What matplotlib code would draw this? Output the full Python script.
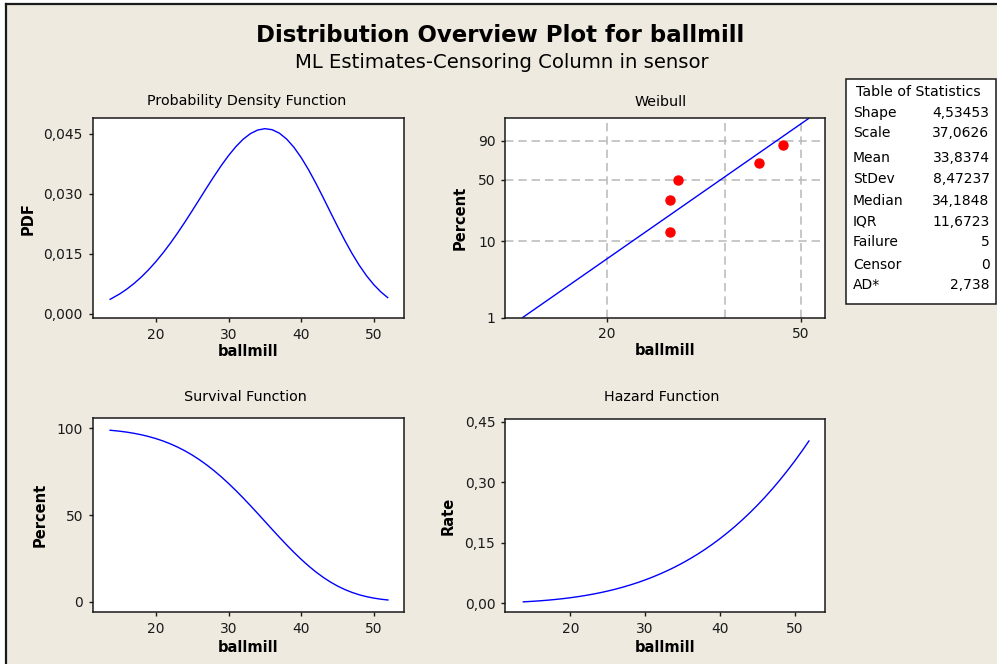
import numpy as np
import matplotlib
matplotlib.use('Agg')
import matplotlib.pyplot as plt
from matplotlib.patches import Rectangle
from matplotlib.lines import Line2D

plt.rcParams['font.family'] = 'DejaVu Sans'

#region Data
curve_x = [13.7, 15, 16, 17, 18, 19, 20, 21, 22, 23, 24, 25, 26, 27, 28, 29, 30, 31, 32, 33, 34, 35,
           36, 37, 38, 39, 40, 41, 42, 43, 44, 45, 46, 47, 48, 49, 50, 51, 51.9]
pdf_y = [0.003591, 0.004919, 0.006146, 0.007560, 0.009173, 0.010989, 0.013007, 0.015224, 0.017626,
         0.020198, 0.022908, 0.025725, 0.028602, 0.031483, 0.034307, 0.037004, 0.039497, 0.041706,
         0.043555, 0.044962, 0.045865, 0.046208, 0.045954, 0.045085, 0.043605, 0.041555, 0.038988,
         0.035986, 0.032644, 0.029096, 0.025431, 0.021805, 0.018305, 0.015031, 0.012067, 0.009457,
         0.007230, 0.005380, 0.004029]
survival_y = [98.91, 98.36, 97.81, 97.12, 96.29, 95.28, 94.08, 92.68, 91.03, 89.14, 86.99, 84.56,
              81.84, 78.84, 75.55, 71.98, 68.15, 64.09, 59.83, 55.39, 50.85, 46.24, 41.63, 37.07,
              32.63, 28.37, 24.34, 20.59, 17.15, 14.07, 11.33, 8.98, 6.97, 5.31, 3.95, 2.88, 2.05,
              1.42, 1.00]
hazard_y = [0.00363, 0.00500, 0.00628, 0.00778, 0.00953, 0.01153, 0.01383, 0.01643, 0.01936, 0.02266,
            0.02634, 0.03042, 0.03495, 0.03993, 0.04541, 0.05141, 0.05795, 0.06507, 0.07280, 0.08117,
            0.09020, 0.09993, 0.11039, 0.12162, 0.13364, 0.14649, 0.16021, 0.17481, 0.19037, 0.20687,
            0.22438, 0.24292, 0.26255, 0.28329, 0.30518, 0.32824, 0.35250, 0.37810, 0.40221]

# Weibull probability plot
fail_x = [27, 27, 28, 41, 46]
fail_pct = [12.96, 31.48, 50.0, 68.52, 87.04]
fit_x = [13.44, 51.9]
fit_pct = [1, 99]

stat_names = ['Shape', 'Scale', 'Mean', 'StDev', 'Median', 'IQR', 'Failure', 'Censor', 'AD*']
stat_values = ['4,53453', '37,0626', '33,8374', '8,47237', '34,1848', '11,6723', '5', '0', '2,738']
#endregion

W, H = 997, 664
BG = '#EEEAE0'
BLUE = '#0000FF'
fig = plt.figure(figsize=(W / 100, H / 100), dpi=100, facecolor=BG)


def box(l, t, r, b):
    # pixel box -> figure rect
    return [l / W, 1 - b / H, (r - l) / W, (b - t) / H]


def ftext(px, py, s, **kw):
    fig.text(px / W, 1 - py / H, s, **kw)


# outer frame (white strip + dark line at top and left)
fig.add_artist(Rectangle((0, 1 - 2.7 / H), 1, 2.7 / H, transform=fig.transFigure, color='white', lw=0))
fig.add_artist(Rectangle((0, 0), 4.7 / W, 1, transform=fig.transFigure, color='white', lw=0))
fig.add_artist(Line2D([5.7 / W, 1], [1 - 3.7 / H, 1 - 3.7 / H], transform=fig.transFigure, color='#1a1a1a', lw=1.6))
fig.add_artist(Line2D([5.7 / W, 5.7 / W], [0, 1 - 3.7 / H], transform=fig.transFigure, color='#1a1a1a', lw=1.6))

ftext(500.5, 35, 'Distribution Overview Plot for ballmill', ha='center', va='center',
      fontsize=16.5, fontweight='bold')
ftext(501.5, 63, 'ML Estimates-Censoring Column in sensor', ha='center', va='center', fontsize=14.1)

TICK_FS = 10


def style(ax, title, title_xy, ylabel, xlab_y, ylab_x):
    ax.set_facecolor('white')
    for s in ax.spines.values():
        s.set_linewidth(1.1)
        s.set_color('#1a1a1a')
    ax.tick_params(direction='out', length=3, width=1, labelsize=TICK_FS, colors='#1a1a1a', pad=4)
    ftext(title_xy[0], title_xy[1], title, ha='center', va='center', fontsize=10.3)
    ax.set_xlabel('ballmill', fontsize=10.5, fontweight='bold')
    ax.set_ylabel(ylabel, fontsize=10.5, fontweight='bold')
    ax.xaxis.set_label_coords(0.5, xlab_y)
    ax.yaxis.set_label_coords(ylab_x, 0.5)


x_ticks = [20, 30, 40, 50]

# PDF
ax1 = fig.add_axes(box(92.7, 118.3, 404, 318.3))
ax1.plot(curve_x, pdf_y, color=BLUE, lw=1.0)
ax1.set_xlim(11.3, 54.15)
ax1.set_ylim(-0.00115, 0.0488)
ax1.set_xticks(x_ticks)
ax1.set_yticks([0, 0.015, 0.03, 0.045])
ax1.set_yticklabels(['0,000', '0,015', '0,030', '0,045'])
style(ax1, 'Probability Density Function', (246.2, 101), 'PDF', -0.126, -0.182)

# Weibull probability plot
def wfwd(p):
    p = np.clip(np.asarray(p, dtype=float), 1e-6, 100 - 1e-6)
    return np.log(-np.log(1 - p / 100))


def winv(w):
    return 100 * (1 - np.exp(-np.exp(w)))


ax2 = fig.add_axes(box(505.3, 118.3, 825, 317.7))
ax2.set_xscale('log')
ax2.set_yscale('function', functions=(wfwd, winv))
ax2.set_xlim(12.4, 56.0)
ax2.set_ylim(1, 99)
for gx in [20, 35, 50]:
    ax2.axvline(gx, color='#bdbdbd', lw=1.2, ls=(0, (5, 3)), zorder=0)
for gy in [10, 50, 90]:
    ax2.axhline(gy, color='#bdbdbd', lw=1.2, ls=(0, (5, 3)), zorder=0)
ax2.plot(fit_x, fit_pct, color=BLUE, lw=1.0, zorder=2)
ax2.plot(fail_x, fail_pct, 'o', color='#FF0000', ms=6.5, zorder=3)
ax2.set_xticks([20, 50])
ax2.set_xticklabels(['20', '50'])
ax2.xaxis.set_minor_locator(matplotlib.ticker.NullLocator())
ax2.set_yticks([1, 10, 50, 90])
ax2.set_yticklabels(['1', '10', '50', '90'])
ax2.yaxis.set_minor_locator(matplotlib.ticker.NullLocator())
style(ax2, 'Weibull', (661, 101.7), 'Percent', -0.128, -0.117)

# Survival
ax3 = fig.add_axes(box(92.7, 418.3, 404.3, 612.3))
ax3.plot(curve_x, survival_y, color=BLUE, lw=1.0)
ax3.set_xlim(11.3, 54.15)
ax3.set_ylim(-6.1, 105.8)
ax3.set_xticks(x_ticks)
ax3.set_yticks([0, 50, 100])
style(ax3, 'Survival Function', (245.8, 396.7), 'Percent', -0.145, -0.146)

# Hazard
ax4 = fig.add_axes(box(505, 419, 825, 612.3))
ax4.plot(curve_x, hazard_y, color=BLUE, lw=1.0)
ax4.set_xlim(11.25, 54.05)
ax4.set_ylim(-0.0223, 0.4567)
ax4.set_xticks(x_ticks)
ax4.set_yticks([0, 0.15, 0.30, 0.45])
ax4.set_yticklabels(['0,00', '0,15', '0,30', '0,45'])
style(ax4, 'Hazard Function', (662, 396.7), 'Rate', -0.145, -0.153)

# Table of statistics
fig.add_artist(Rectangle((845.7 / W, 1 - 304 / H), 150 / W, (304 - 79.3) / H, transform=fig.transFigure,
                         facecolor='white', edgecolor='#1a1a1a', lw=1.1))
ftext(918, 91.7, 'Table of Statistics', ha='center', va='center', fontsize=10.2)
row_y = [113.3, 133.3, 157.7, 179.3, 200.7, 221.7, 242.3, 265, 285]
for name, val, ry in zip(stat_names, stat_values, row_y):
    ftext(853, ry, name, ha='left', va='center', fontsize=10)
    ftext(989.5, ry, val, ha='right', va='center', fontsize=10)

fig.savefig('out.png', dpi=100, facecolor=BG)
